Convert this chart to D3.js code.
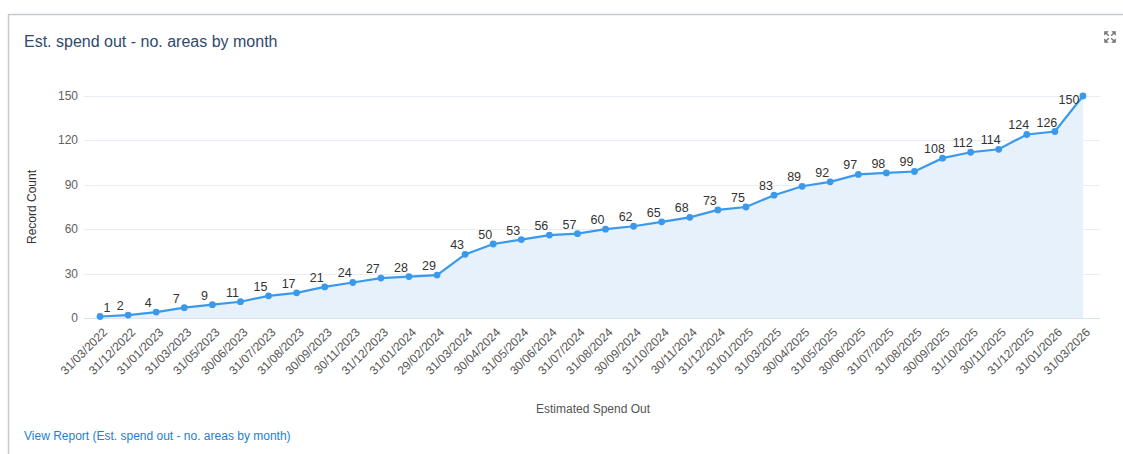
<!DOCTYPE html>
<html><head><meta charset="utf-8">
<script src="https://cdn.jsdelivr.net/npm/d3@7"></script>
<style>
body{margin:0;background:#fff;font-family:Arial,"Liberation Sans",sans-serif;}
svg{display:block}
</style></head>
<body>
<svg id="c" width="1123" height="454"></svg>
<script>
const categories = ["31/03/2022","31/12/2022","31/01/2023","31/03/2023","31/05/2023","30/06/2023","31/07/2023","31/08/2023","30/09/2023","30/11/2023","31/12/2023","31/01/2024","29/02/2024","31/03/2024","30/04/2024","31/05/2024","30/06/2024","31/07/2024","31/08/2024","30/09/2024","31/10/2024","30/11/2024","31/12/2024","31/01/2025","31/03/2025","30/04/2025","31/05/2025","30/06/2025","31/07/2025","31/08/2025","30/09/2025","31/10/2025","30/11/2025","31/12/2025","31/01/2026","31/03/2026"];
const values = [1,2,4,7,9,11,15,17,21,24,27,28,29,43,50,53,56,57,60,62,65,68,73,75,83,89,92,97,98,99,108,112,114,124,126,150];
const yTicks = [0,30,60,90,120,150];
const title = "Est. spend out - no. areas by month";
const xTitle = "Estimated Spend Out";
const yTitle = "Record Count";
const linkText = "View Report (Est. spend out - no. areas by month)";

(function(){
const svg = d3.select("#c");
const font = "Arial, 'Liberation Sans', sans-serif";

// frame
svg.append("line").attr("x1",8).attr("x2",1123).attr("y1",14.5).attr("y2",14.5).attr("stroke","#c4c9d0").attr("stroke-width",1.5);
svg.append("line").attr("x1",8.5).attr("x2",8.5).attr("y1",14).attr("y2",454).attr("stroke","#c4c9d0").attr("stroke-width",1.5);

svg.append("text").attr("x",24).attr("y",47).text(title)
  .attr("font-family",font).attr("font-size",16).attr("fill","#2e4a6d");

// expand icon
const ic = svg.append("g").attr("transform","translate(1110,37)").attr("fill","#777").attr("stroke","#777");
[[-1,-1],[1,-1],[-1,1],[1,1]].forEach(([sx,sy])=>{
  ic.append("path").attr("d",`M${sx*5.5},${sy*5.5} L${sx*5.5},${sy*1.8} L${sx*1.8},${sy*5.5} Z`).attr("stroke-width",0.6);
  ic.append("line").attr("x1",sx*4).attr("y1",sy*4).attr("x2",sx*1.2).attr("y2",sy*1.2).attr("stroke-width",1.4);
});

const pL = 86, pR = 1097, pT = 96, pB = 318;
const x = d3.scaleBand().domain(categories).range([pL,pR]).padding(0);
const y = d3.scaleLinear().domain([0,150]).range([pB,pT]);
const cx = d => x(d) + x.bandwidth()/2;

// grid
svg.append("g").selectAll("line").data(yTicks).join("line")
  .attr("x1",pL-2).attr("x2",1100).attr("y1",d=>Math.round(y(d))+0.5).attr("y2",d=>Math.round(y(d))+0.5)
  .attr("stroke",d=>d===0?"#d8e3ee":"#e6edf4").attr("stroke-width",1);

svg.append("g").selectAll("text").data(yTicks).join("text")
  .attr("x",78).attr("y",d=>y(d)+4).attr("text-anchor","end")
  .attr("font-family",font).attr("font-size",12).attr("fill","#5f5f5f").text(d=>d);

// area + line
const data = categories.map((c,i)=>({c,v:values[i]}));
svg.append("path").datum(data)
  .attr("d",d3.area().x(d=>cx(d.c)).y0(y(0)).y1(d=>y(d.v)))
  .attr("fill","#e7f1fc");
svg.append("path").datum(data)
  .attr("d",d3.line().x(d=>cx(d.c)).y(d=>y(d.v)))
  .attr("fill","none").attr("stroke","#3b99ec").attr("stroke-width",2.2);
svg.append("g").selectAll("circle").data(data).join("circle")
  .attr("cx",d=>cx(d.c)).attr("cy",d=>y(d.v)).attr("r",3.4).attr("fill","#3b99ec");

// data labels
const n = data.length;
svg.append("g").selectAll("text").data(data).join("text")
  .attr("x",(d,i)=> i===n-1 ? cx(d.c)-14 : (i===0 ? cx(d.c)+7 : cx(d.c)-8))
  .attr("y",(d,i)=> i===n-1 ? y(d.v)+8 : y(d.v)-5)
  .attr("text-anchor","middle")
  .attr("font-family",font).attr("font-size",12.5).attr("fill","#333").text(d=>d.v);

// x tick labels
svg.append("g").selectAll("text").data(categories).join("text")
  .attr("transform",d=>`translate(${cx(d)+5},${pB+12}) rotate(-45)`)
  .attr("text-anchor","end").attr("dy","0.35em")
  .attr("font-family",font).attr("font-size",12).attr("fill","#555").text(d=>d);

svg.append("text").attr("x",593).attr("y",413).attr("text-anchor","middle")
  .attr("font-family",font).attr("font-size",12).attr("fill","#555").text(xTitle);
svg.append("text").attr("transform",`translate(36,${(pT+pB)/2}) rotate(-90)`).attr("text-anchor","middle")
  .attr("font-family",font).attr("font-size",12).attr("fill","#333").text(yTitle);

svg.append("text").attr("x",24).attr("y",440).text(linkText)
  .attr("font-family",font).attr("font-size",12).attr("fill","#1a7fd6");
})();
</script>
</body></html>
